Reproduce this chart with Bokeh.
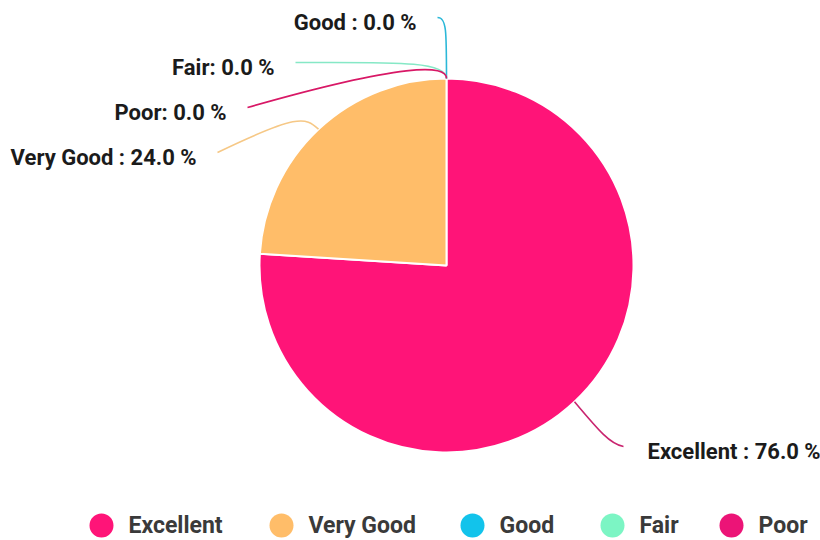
import numpy as np
from bokeh.plotting import figure
from bokeh.models import Range1d, ColumnDataSource
from bokeh.core.properties import value
from bokeh.embed import file_html
from bokeh.resources import INLINE

# ---- data ----
categories = ["Excellent", "Very Good", "Good", "Fair", "Poor"]
percents = [76.0, 24.0, 0.0, 0.0, 0.0]
separators = [" : ", " : ", " : ", ": ", ": "]
slice_colors = ["#FF1478", "#FFBD69", "#12C3EB", "#7CF5C4", "#EC1477"]
line_colors = ["#C9246F", "#F6C886", "#2BB8D8", "#86E8C6", "#D81866"]

# ---- layout (screen px) ----
W, H = 820, 540
CX, CY, R = 446, 265, 187


def X(sx):
    return sx


def Y(sy):
    return H - sy


p = figure(width=W, height=H, output_backend="svg", toolbar_location=None,
           x_range=Range1d(0, W), y_range=Range1d(0, H),
           min_border=0, min_border_left=0, min_border_right=0,
           min_border_top=0, min_border_bottom=0)
p.axis.visible = False
p.grid.visible = False
p.outline_line_color = None
p.background_fill_color = "white"
p.border_fill_color = "white"

vals = np.array(percents)
fr = vals / vals.sum()
cum = np.concatenate([[0], np.cumsum(fr)])
# clockwise from 12 o'clock, expressed as anticlockwise wedges
a_from = np.mod(np.pi / 2 - 2 * np.pi * cum[1:], 2 * np.pi)
a_to = np.mod(np.pi / 2 - 2 * np.pi * cum[:-1], 2 * np.pi)
mid = np.pi / 2 - np.pi * (cum[:-1] + cum[1:])

nz = vals > 0
src = ColumnDataSource(dict(start=a_from[nz], end=a_to[nz],
                            color=[c for c, k in zip(slice_colors, nz) if k]))
p.wedge(x=X(CX), y=Y(CY), radius=R, start_angle="start", end_angle="end",
        direction="anticlock", fill_color="color", line_color="white",
        line_width=2, source=src)

# connectors: start on the pie edge at slice mid angle; controls/end as layout
ax = CX + R * np.cos(mid)
ay = CY - R * np.sin(mid)
conn = [
    ((598, 430), (610, 444), (623, 446)),
    ((305, 116), (296, 114), (217, 152)),
    ((446, 30), (446, 17), (437, 17)),
    ((446, 60), (390, 62), (295, 62)),
    ((446, 64), (405, 62), (247, 107)),
]
for i in range(len(categories)):
    (c0x, c0y), (c1x, c1y), (ex, ey) = conn[i]
    p.bezier(x0=X(ax[i]), y0=Y(ay[i]), x1=X(ex), y1=Y(ey),
             cx0=X(c0x), cy0=Y(c0y), cx1=X(c1x), cy1=Y(c1y),
             line_color=line_colors[i], line_width=1.6)
    right_side = ex > CX + 50
    tx = ex + 24 if right_side else ex - 21
    label = f"{categories[i]}{separators[i]}{percents[i]:.1f} %"
    p.text(x=[X(tx)], y=[Y(ey + 5)], text=[label],
           text_font=value("Roboto"), text_font_style="bold",
           text_font_size="22px", text_color="#1b1b1b",
           text_baseline="middle", text_align="left" if right_side else "right")

# legend
leg_x = [101, 281, 472, 612, 731]
leg_y = 525
p.scatter(x=[X(v) for v in leg_x], y=[Y(leg_y)] * 5, size=24, marker="circle",
          fill_color=slice_colors, line_color=None)
p.text(x=[X(v + 27) for v in leg_x], y=[Y(leg_y)] * 5, text=categories,
       text_font=value("Roboto"), text_font_style="bold", text_font_size="23px",
       text_color="#3a3a3a", text_baseline="middle", text_align="left")

open("out.html", "w").write(file_html(p, INLINE))
